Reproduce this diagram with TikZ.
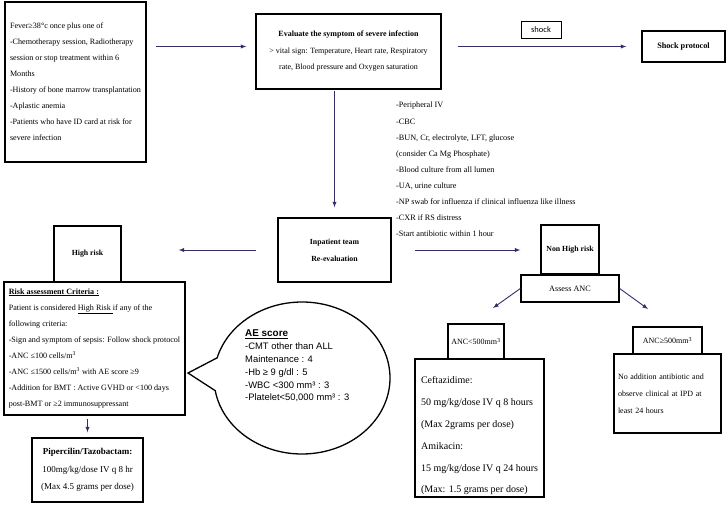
\documentclass[tikz,border=0pt]{standalone}
\usepackage{fontspec}
\setmainfont{Liberation Serif}
\newfontfamily\arialfont{Liberation Sans}
\newfontfamily\calfont{Carlito}
\usetikzlibrary{shapes.callouts}
\def\fsz#1#2{\fontsize{#1}{#2}\selectfont}
\definecolor{arrowblue}{RGB}{52,46,104}
\tikzset{
	box/.style={draw=black, line width=1.3pt, inner sep=0pt, align=center},
	flow/.style={draw=arrowblue, line width=0.9pt, -latex},
}

\begin{document}
\begin{tikzpicture}[x=1pt, y=-1pt]
		%%%%% START %%%%%
		\useasboundingbox (0,0) rectangle (726,506);
		
		\node[box, align=left, minimum width=141pt, minimum height=160pt, font=\fsz{8.1}{16}] (fever) at (75.5, 82) {Fever≥38°c once plus one of\\-Chemotherapy session, Radiotherapy\\session or stop treatment within 6\\Months\\-History of bone marrow transplantation\\-Aplastic anemia\\-Patients who have ID card at risk for\\severe infection};
		
		\node[box, minimum width=185pt, minimum height=75pt, font=\fsz{8}{16.5}] (evaluate) at (348.5, 51.5) {\textbf{Evaluate the symptom of severe infection}\\> vital sign: Temperature, Heart rate, Respiratory\\rate, Blood pressure and Oxygen saturation};
		
		\node[draw, line width=0.6pt, minimum width=40pt, minimum height=17pt, font=\calfont\fsz{8.5}{10}] (shocklbl) at (541, 29.5) {shock};
		\node[box, minimum width=83pt, minimum height=31pt, font=\fsz{8.2}{10}\bfseries] (shockprot) at (683.5, 46.5) {Shock protocol};
		
		\node[box, minimum width=113pt, minimum height=64pt, font=\fsz{7.8}{17}\bfseries] (inpatient) at (334.5, 250) {Inpatient team\\Re-evaluation};
		
		\node[anchor=west, align=left, inner sep=0pt, font=\fsz{8.2}{16.1}] (labs) at (396, 169.5) {-Peripheral IV\\-CBC\\-BUN, Cr, electrolyte, LFT, glucose\\(consider Ca Mg Phosphate)\\-Blood culture from all lumen\\-UA, urine culture\\-NP swab for influenza if clinical influenza like illness\\-CXR if RS distress\\-Start antibiotic within 1 hour};
		
		\node[box, minimum width=58pt, minimum height=49pt, font=\fsz{7.8}{10}\bfseries] (nonhigh) at (570, 249.5) {Non High risk};
		\node[box, minimum width=98pt, minimum height=27pt, font=\fsz{8.2}{10}] (assess) at (570, 288.5) {Assess ANC};
		
		\node[box, minimum width=56pt, minimum height=35pt, font=\fsz{8}{10}] (anclow) at (476, 341.5) {ANC<500mm\textsuperscript{3}};
		\node[box, align=left, minimum width=129pt, minimum height=138pt, font=\fsz{10}{21.8}] (ceftaz) at (479.5, 428) {\rule{0pt}{23pt}Ceftazidime:\\50 mg/kg/dose IV q 8 hours\\(Max 2grams per dose)\\Amikacin:\\15 mg/kg/dose IV q 24 hours\\(Max: 1.5 grams per dose)};
		
		\node[box, minimum width=69pt, minimum height=27pt, font=\fsz{8}{10}] (anchigh) at (667.5, 340.5) {ANC≥500mm\textsuperscript{3}};
		\node[box, align=left, inner xsep=4pt, text width=99pt, minimum height=79pt, font=\fsz{8}{17}] (noadd) at (667.5, 393.5) {No addition antibiotic and\\observe clinical at IPD at\\least 24 hours};
		
		\node[box, minimum width=67pt, minimum height=56pt, font=\fsz{7.8}{10}\bfseries] (highrisk) at (87.5, 254) {High risk};
		\node[box, align=left, minimum width=181pt, minimum height=133pt, font=\fsz{8.1}{16.1}] (risk) at (94.5, 348.5) {\textbf{\underline{Risk assessment Criteria :}}\\Patient is considered \underline{High Risk }if any of the\\following criteria:\\-Sign and symptom of sepsis: Follow shock protocol\\-ANC ≤100 cells/m\textsuperscript{3}\\-ANC ≤1500 cells/m\textsuperscript{3} with AE score ≥9\\-Addition for BMT : Active GVHD or <100 days\\post-BMT or ≥2 immunosuppressant};
		
		\node[box, minimum width=111pt, minimum height=64pt, font=\fsz{9}{17.5}] (pip) at (87.5, 470) {\textbf{Pipercilin/Tazobactam:}\\100mg/kg/dose IV q 8 hr\\(Max 4.5 grams per dose)};
		
		\node[ellipse callout, draw, line width=1.3pt, minimum width=176pt, minimum height=152pt, callout absolute pointer={(188,373)}, callout pointer arc=25] (bubble) at (302, 378) {};
		\node[anchor=west, align=left, inner sep=0pt, font=\arialfont\fsz{9.4}{12.8}] (aescore) at (245, 366) {\textbf{\fsz{9.9}{12.8}\underline{AE score}}\\-CMT other than ALL\\Maintenance : 4\\-Hb ≥ 9 g/dl : 5\\-WBC <300 mm³ : 3\\-Platelet<50,000 mm³ : 3};
		
		% arrows
		\coordinate (lowtip) at (493, 308);
		\coordinate (hightip) at (648, 309);
		\draw[flow, shorten <=9pt, shorten >=9pt] (fever.east |- shockprot) -- (evaluate.west |- shockprot);
		\draw[flow, shorten <=16pt, shorten >=15pt] (evaluate.east |- shockprot) -- (shockprot.west);
		\draw[flow, shorten <=1pt, shorten >=10pt] (evaluate.south -| inpatient) -- (inpatient.north);
		\draw[flow, shorten <=21pt, shorten >=57pt] (inpatient.west) -- (inpatient.west -| highrisk.east);
		\draw[flow, shorten <=23pt, shorten >=20pt] (inpatient.east) -- (inpatient.east -| nonhigh.west);
		\draw[flow] (assess.west) -- (lowtip);
		\draw[flow] (assess.east) -- (hightip);
		\draw[flow, shorten <=3pt, shorten >=5pt] (risk.south -| pip.north) -- (pip.north);
		
		%%%%% END %%%%%
\end{tikzpicture}
\end{document}
